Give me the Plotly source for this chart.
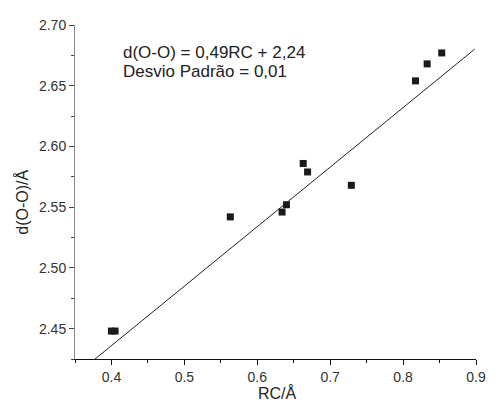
import plotly.graph_objects as go

# Measured ionic radius (RC, Å) and O–O distance (Å)
rc = [0.400, 0.405, 0.563, 0.634, 0.640, 0.663, 0.669, 0.729, 0.817, 0.833, 0.853]
d_oo = [2.448, 2.448, 2.542, 2.546, 2.552, 2.586, 2.579, 2.568, 2.654, 2.668, 2.677]

# Linear fit reported on the chart: d(O-O) = 0.49*RC + 2.24
fit_slope = 0.49
fit_intercept = 2.24
fit_x = [0.35, 0.898]
fit_y = [fit_slope * x + fit_intercept for x in fit_x]

x_ticks = [0.4, 0.5, 0.6, 0.7, 0.8, 0.9]
y_ticks = [2.45, 2.50, 2.55, 2.60, 2.65, 2.70]

equation_text = "d(O-O) = 0,49RC + 2,24"
deviation_text = "Desvio Padrão = 0,01"

FONT = "Liberation Sans, Arial, sans-serif"

fig = go.Figure()

fig.add_trace(go.Scatter(
    x=fit_x, y=fit_y, mode="lines",
    line=dict(color="#222222", width=1),
    hoverinfo="skip", showlegend=False,
))

fig.add_trace(go.Scatter(
    x=rc, y=d_oo, mode="markers",
    marker=dict(symbol="square", size=7, color="#1a1a1a", line=dict(width=0)),
    showlegend=False,
))

axis_common = dict(
    showgrid=False, zeroline=False, showline=True, linewidth=1,
    ticks="outside", ticklen=5, tickwidth=1,
    tickfont=dict(family=FONT, size=14, color="#333333"),
    mirror=False,
)

fig.update_xaxes(
    range=[0.35, 0.9], tickvals=x_ticks, tickformat=".1f",
    linecolor="#111111", tickcolor="#111111",
    minor=dict(dtick=0.05, tick0=0.35, ticks="outside", ticklen=3, tickcolor="#111111"),
    **axis_common,
)
fig.update_yaxes(
    range=[2.425, 2.70], tickvals=y_ticks, tickformat=".2f",
    linecolor="#8a8a8a", tickcolor="#444444",
    minor=dict(dtick=0.025, tick0=2.425, ticks="outside", ticklen=3, tickcolor="#444444"),
    **axis_common,
)

annotations = [
    dict(text=equation_text, x=0.114, y=0.918, xanchor="left", yanchor="middle",
         font=dict(family=FONT, size=17, color="#222222")),
    dict(text=deviation_text, x=0.114, y=0.860, xanchor="left", yanchor="middle",
         font=dict(family=FONT, size=17, color="#222222")),
    dict(text="RC/Å", x=0.505, y=-0.103, xanchor="center", yanchor="middle",
         font=dict(family=FONT, size=16, color="#222222")),
    dict(text="d(O-O)/Å", x=-0.133, y=0.470, xanchor="center", yanchor="middle",
         textangle=-90, font=dict(family=FONT, size=16, color="#222222")),
]
for a in annotations:
    a.update(xref="paper", yref="paper", showarrow=False)

fig.update_layout(
    width=497, height=405,
    margin=dict(l=75, r=11, t=25, b=46),
    paper_bgcolor="white", plot_bgcolor="white",
    annotations=annotations,
    font=dict(family=FONT),
)

fig.write_html("out.html")
